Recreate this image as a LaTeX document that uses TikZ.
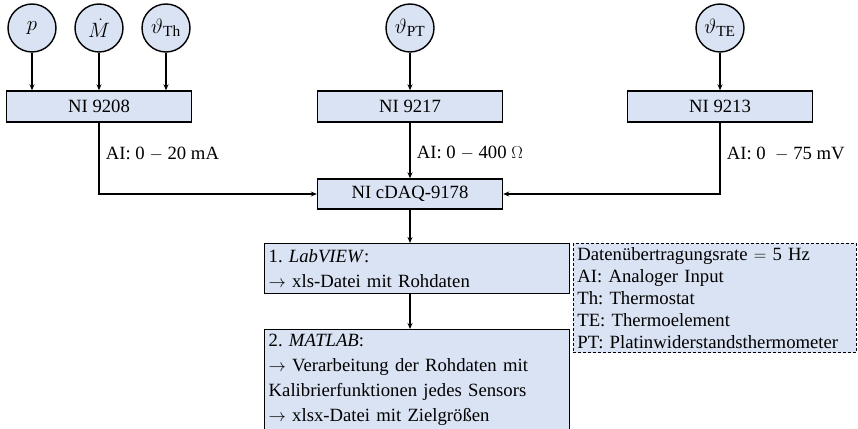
\documentclass[tikz,border=0pt]{standalone}
\usepackage{amsmath}
\usepackage{amssymb}
\usepackage{fontspec}
\setmainfont{Liberation Serif}
\usepackage{tikz}
\usetikzlibrary{arrows.meta}
\definecolor{boxblue}{RGB}{218,227,243}
\frenchspacing

\begin{document}
\begin{tikzpicture}[
        x=1pt, y=-1pt,
        font=\fontsize{18.7}{25}\selectfont,
        sensor/.style={circle, draw, fill=boxblue, line width=1.4pt, minimum size=48pt, inner sep=0pt, font=\fontsize{22}{26}\selectfont},
        module/.style={draw, fill=boxblue, line width=1.4pt, minimum width=185pt, minimum height=31pt, inner sep=0pt},
        stepbox/.style={draw, fill=boxblue, line width=1.4pt, text width=297pt, align=left, inner sep=4pt, anchor=north west},
        legend/.style={draw, densely dashed, fill=boxblue, line width=0.7pt, text width=275pt, align=left, inner sep=4pt, anchor=north west, font=\fontsize{18.7}{22}\selectfont},
        arr/.style={-{Stealth[length=6pt,width=5pt]}, line width=1.1pt},
    ]
        \useasboundingbox (0,0) rectangle (858,428);

        \node[sensor] (p) at (32,28) {$p$};
        \node[sensor] (mdot) at (99,28) {$\dot{M}$};
        \node[sensor] (tth) at (166,28) {$\vartheta_{\mathrm{Th}}$};
        \node[sensor] (tpt) at (410,28) {$\vartheta_{\mathrm{PT}}$};
        \node[sensor] (tte) at (720,28) {$\vartheta_{\mathrm{TE}}$};

        \node[module] (ni8) at (99,106.5) {NI 9208};
        \node[module] (ni17) at (410,106.5) {NI 9217};
        \node[module] (ni13) at (720,106.5) {NI 9213};
        \node[module, minimum height=30pt] (cdaq) at (410,194) {NI cDAQ-9178};

        \node[stepbox, minimum height=50pt] (lab) at (264,243) {1. \textit{LabVIEW}:\\ $\rightarrow$ xls-Datei mit Rohdaten};
        \node[stepbox] (mat) at (264,329) {2. \textit{MATLAB}:\\ $\rightarrow$ Verarbeitung der Rohdaten mit\\ Kalibrierfunktionen jedes Sensors\\ $\rightarrow$ xlsx-Datei mit Zielgrößen\rule[-14pt]{0pt}{0pt}};
        \node[legend] (leg) at (573,243) {Datenübertragungsrate $=$ 5 Hz\\ AI: Analoger Input\\ Th: Thermostat\\ TE: Thermoelement\\ PT: Platinwiderstandsthermometer};

        \foreach \s in {p, mdot, tth}
            \draw[arr] (\s) -- (\s |- ni8.north);
        \draw[arr] (tpt) -- (ni17);
        \draw[arr] (tte) -- (ni13);

        \draw[arr] (ni8.south) |- node[pos=0.22, right=3pt] {AI: 0 $-$ 20 mA} (cdaq.west);
        \draw[arr] (ni17) -- node[pos=0.55, right=3pt] {AI: 0 $-$ 400 $\Omega$} (cdaq);
        \draw[arr] (ni13.south) |- node[pos=0.22, right=3pt] {AI: 0 \ $-$ 75 mV} (cdaq.east);

        \draw[arr] (cdaq.south) -- (cdaq.south |- lab.north);
        \draw[arr] (cdaq.south |- lab.south) -- (cdaq.south |- mat.north);
    \end{tikzpicture}
\end{document}
